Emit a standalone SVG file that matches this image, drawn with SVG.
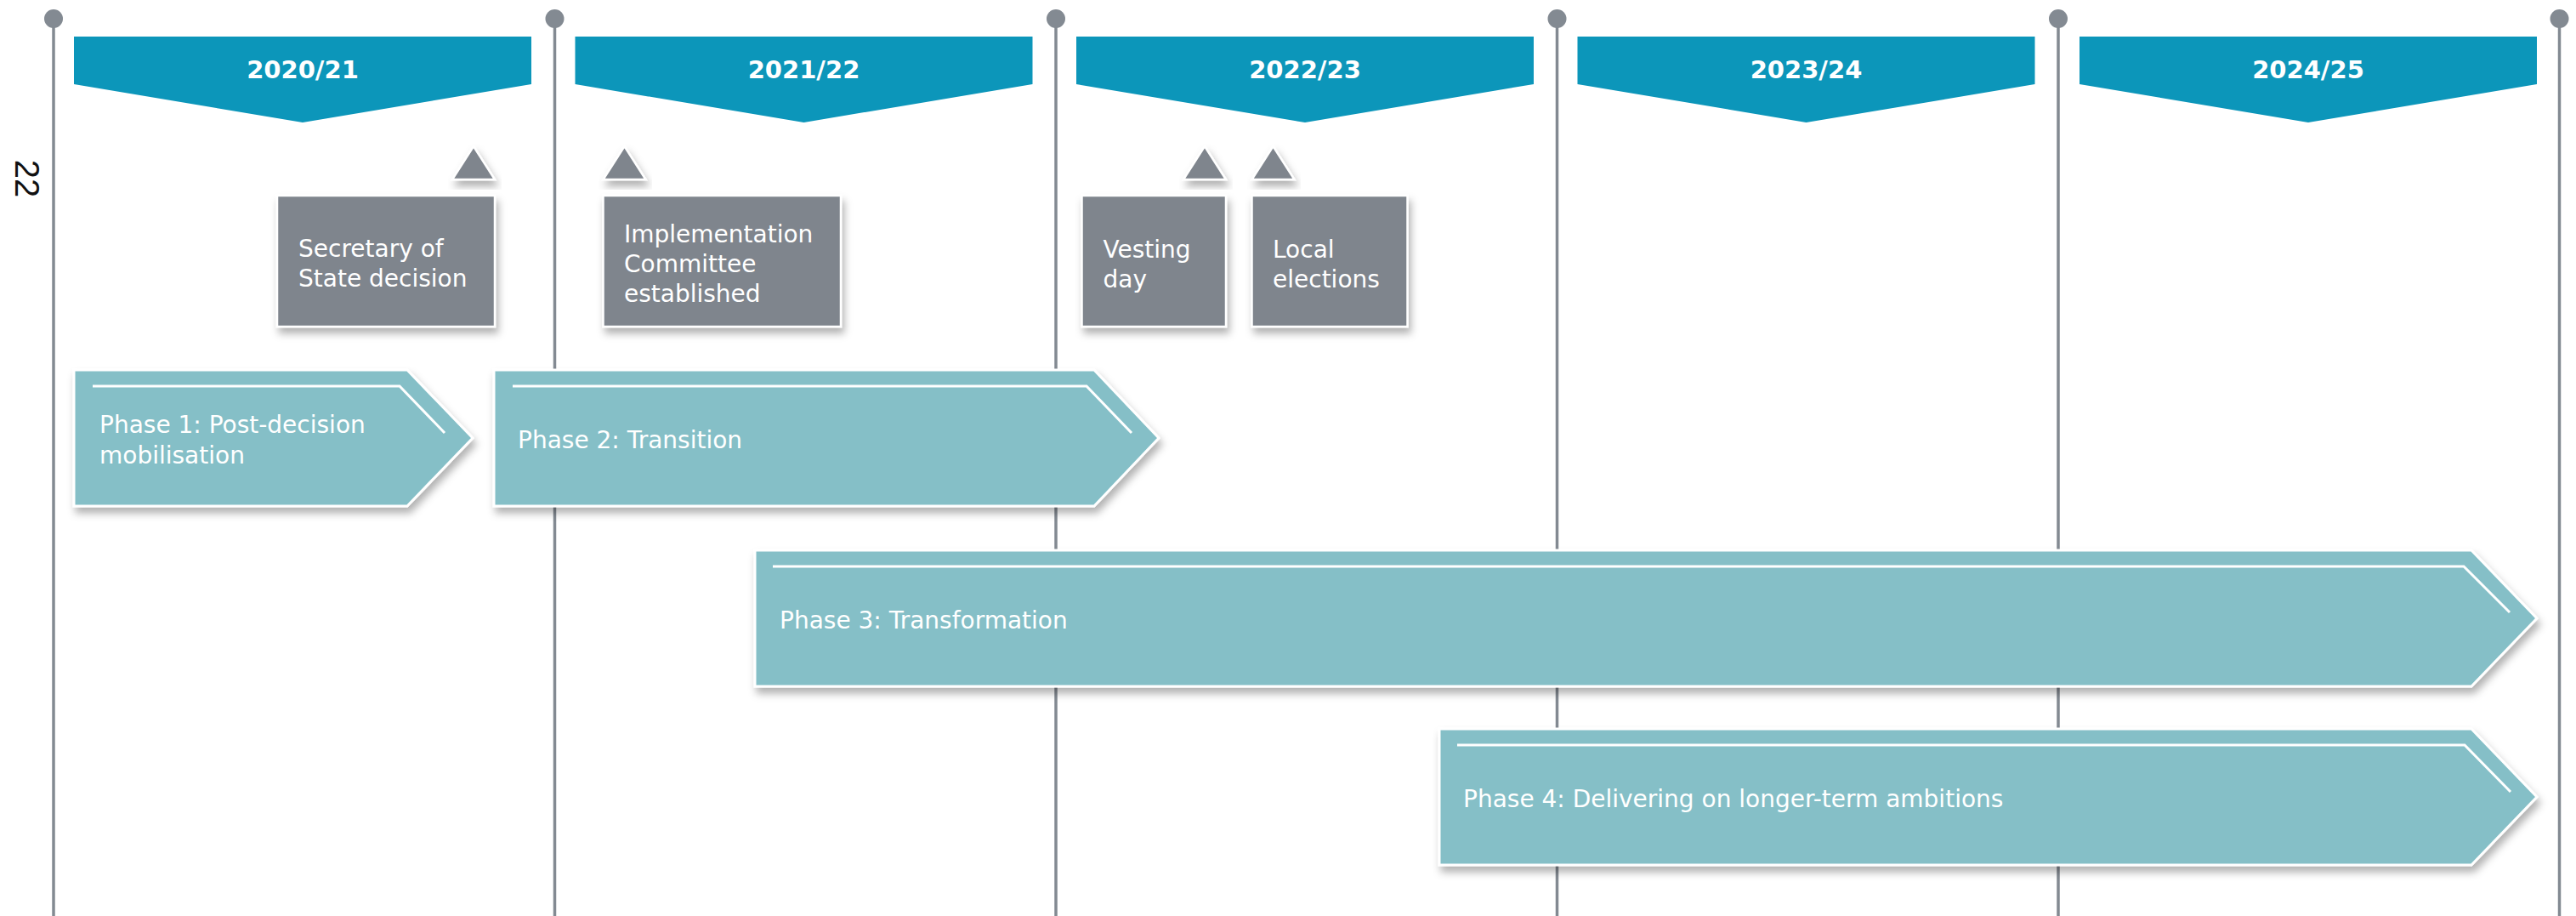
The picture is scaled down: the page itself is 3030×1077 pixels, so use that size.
<svg xmlns="http://www.w3.org/2000/svg" width="3030" height="1077" viewBox="0 0 3030 1077">
<defs>
<style>
.vline{stroke:#838a92;stroke-width:3.5;fill:none}
.dot{fill:#838a92}
.banner{fill:#0c96ba}
.year{font-family:"DejaVu Sans",sans-serif;font-weight:bold;font-size:29px;fill:#ffffff;text-anchor:middle}
.box{fill:#7f858d;stroke:#ffffff;stroke-width:2.5;filter:url(#sh)}
.tri{fill:#7f858d;stroke:#ffffff;stroke-width:2.5;filter:url(#sh)}
.btxt{font-family:"DejaVu Sans",sans-serif;font-size:28px;fill:#ffffff}
.phase{fill:#85bfc7;stroke:#ffffff;stroke-width:3;filter:url(#sh)}
.inner{fill:none;stroke:#ffffff;stroke-width:3}
.ptxt{font-family:"DejaVu Sans",sans-serif;font-size:28px;fill:#ffffff}
.pagenum{font-family:"Liberation Sans",sans-serif;font-size:40px;fill:#111111}
</style>
<filter id="sh" x="-10%" y="-20%" width="125%" height="150%">
<feDropShadow dx="3" dy="7" stdDeviation="5" flood-color="#000000" flood-opacity="0.3"/>
</filter>
</defs>
<rect x="0" y="0" width="3030" height="1077" fill="#ffffff"/>

<text class="pagenum" transform="translate(18,210) rotate(90)" text-anchor="middle">22</text>

<g id="timeline">
<line class="vline" x1="63" y1="22" x2="63" y2="1077"/>
<line class="vline" x1="652.5" y1="22" x2="652.5" y2="1077"/>
<line class="vline" x1="1242" y1="22" x2="1242" y2="1077"/>
<line class="vline" x1="1831.5" y1="22" x2="1831.5" y2="1077"/>
<line class="vline" x1="2421" y1="22" x2="2421" y2="1077"/>
<line class="vline" x1="3010.5" y1="22" x2="3010.5" y2="1077"/>
<circle class="dot" cx="63" cy="22" r="11"/>
<circle class="dot" cx="652.5" cy="22" r="11"/>
<circle class="dot" cx="1242" cy="22" r="11"/>
<circle class="dot" cx="1831.5" cy="22" r="11"/>
<circle class="dot" cx="2421" cy="22" r="11"/>
<circle class="dot" cx="3010.5" cy="22" r="11"/>
</g>

<g id="year-2020-21">
<polygon class="banner" points="87,43 625,43 625,99 356,144 87,99"/>
<text class="year" x="356" y="92">2020/21</text>
</g>
<g id="year-2021-22">
<polygon class="banner" points="676.5,43 1214.5,43 1214.5,99 945.5,144 676.5,99"/>
<text class="year" x="945.5" y="92">2021/22</text>
</g>
<g id="year-2022-23">
<polygon class="banner" points="1266,43 1804,43 1804,99 1535,144 1266,99"/>
<text class="year" x="1535" y="92">2022/23</text>
</g>
<g id="year-2023-24">
<polygon class="banner" points="1855.5,43 2393.5,43 2393.5,99 2124.5,144 1855.5,99"/>
<text class="year" x="2124.5" y="92">2023/24</text>
</g>
<g id="year-2024-25">
<polygon class="banner" points="2446,43 2984,43 2984,99 2715,144 2446,99"/>
<text class="year" x="2715" y="92">2024/25</text>
</g>

<g id="event-sos-decision">
<polygon class="tri" points="557,172 532,211 582,211"/>
<rect class="box" x="326" y="230" width="256" height="154"/>
<text class="btxt" x="351" y="302">Secretary of</text>
<text class="btxt" x="351" y="337">State decision</text>
</g>
<g id="event-implementation-committee">
<polygon class="tri" points="734.5,172 709.5,211 759.5,211"/>
<rect class="box" x="709.5" y="230" width="279.5" height="154"/>
<text class="btxt" x="734" y="285">Implementation</text>
<text class="btxt" x="734" y="320">Committee</text>
<text class="btxt" x="734" y="355">established</text>
</g>
<g id="event-vesting-day">
<polygon class="tri" points="1417,172 1392,211 1442,211"/>
<rect class="box" x="1272.5" y="230" width="169.5" height="154"/>
<text class="btxt" x="1297.5" y="303">Vesting</text>
<text class="btxt" x="1297.5" y="338">day</text>
</g>
<g id="event-local-elections">
<polygon class="tri" points="1497.5,172 1472.5,211 1522.5,211"/>
<rect class="box" x="1472.5" y="230" width="183" height="154"/>
<text class="btxt" x="1497" y="303">Local</text>
<text class="btxt" x="1497" y="338">elections</text>
</g>

<g id="phase-1">
<polygon class="phase" points="87,435 479,435 556,515 479,595 87,595"/>
<polyline class="inner" points="109,454 470,454 523,509"/>
<text class="ptxt" x="117" y="509">Phase 1: Post-decision</text>
<text class="ptxt" x="117" y="545">mobilisation</text>
</g>
<g id="phase-2">
<polygon class="phase" points="581,435 1287,435 1363,515 1287,595 581,595"/>
<polyline class="inner" points="603,454 1278,454 1331,509"/>
<text class="ptxt" x="609" y="527">Phase 2: Transition</text>
</g>
<g id="phase-3">
<polygon class="phase" points="888,647 2907,647 2984,727 2907,807 888,807"/>
<polyline class="inner" points="909,666 2898,666 2952,720"/>
<text class="ptxt" x="917" y="739">Phase 3: Transformation</text>
</g>
<g id="phase-4">
<polygon class="phase" points="1693,857 2907,857 2984,937 2907,1017 1693,1017"/>
<polyline class="inner" points="1714,876 2899,876 2953,931"/>
<text class="ptxt" x="1721" y="949">Phase 4: Delivering on longer-term ambitions</text>
</g>
</svg>
